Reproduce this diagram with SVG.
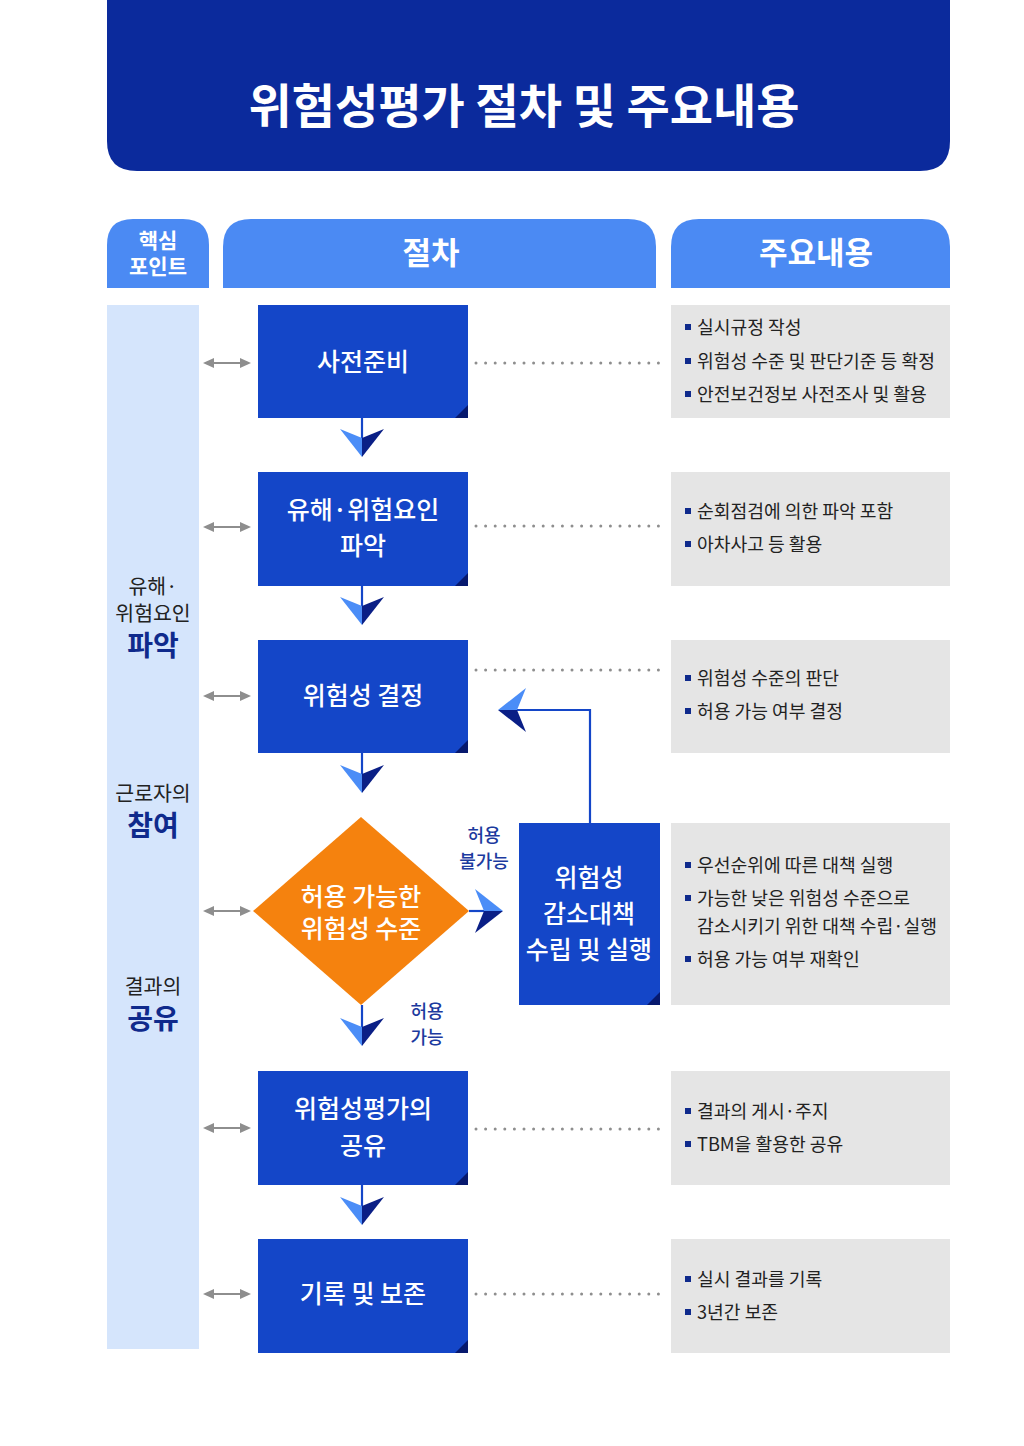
<svg xmlns="http://www.w3.org/2000/svg" width="1024" height="1446" viewBox="0 0 1024 1446">
<defs>
<style>
text{font-family:"Noto Sans CJK KR","Noto Sans",sans-serif}
.box{fill:#1446c8}
.fold{fill:#07196e}
.info{fill:#e5e5e5}
.btxt{fill:#fff;font-size:25px;font-weight:500;text-anchor:middle}
.itxt{fill:#222;font-size:18.2px}
.bul{fill:#0f2a8c}
.dot{stroke:#8e8e8e;stroke-width:3;stroke-linecap:round;stroke-dasharray:0 9.6;fill:none}
.dbl{stroke:#8e8e8e;stroke-width:2;fill:none}
.ah{fill:#8e8e8e}
.lt{fill:#4b8df7}
.dk{fill:#0a1f86}
.ln{stroke:#1446c8;stroke-width:2.2;fill:none}
.lbl{fill:#1c3a9e;font-size:18px;font-weight:500;text-anchor:middle}
.lc{fill:#222;font-size:20.5px;text-anchor:middle}
.lcb{fill:#0f2a8c;font-size:28px;font-weight:700;text-anchor:middle}
.hd{fill:#fff;font-weight:700;text-anchor:middle}
</style>
<g id="dblarrow">
<line class="dbl" x1="210" y1="0" x2="244" y2="0"/>
<polygon class="ah" points="203,0 214,-5 214,5"/>
<polygon class="ah" points="251,0 240,-5 240,5"/>
</g>
<g id="chev">
<polygon class="lt" points="-22,0 0,9 0,28"/>
<polygon class="dk" points="22,0 0,9 0,28"/>
</g>
</defs>
<rect width="1024" height="1446" fill="#fff"/>

<g id="title">
<path d="M107,0 H950 V141 Q950,171 920,171 H137 Q107,171 107,141 Z" fill="#0b2a9c"/>
<text x="524" y="123" class="hd" font-size="47" font-weight="900">위험성평가 절차 및 주요내용</text>
</g>

<g id="headers">
<path d="M107,288 V245 Q107,219 133,219 H183 Q209,219 209,245 V288 Z" fill="#4b8af3"/>
<text x="158" y="248" class="hd" font-size="21">핵심</text>
<text x="158" y="274" class="hd" font-size="21">포인트</text>
<path d="M223,288 V247 Q223,219 251,219 H628 Q656,219 656,247 V288 Z" fill="#4b8af3"/>
<text x="431" y="264" class="hd" font-size="31">절차</text>
<path d="M671,288 V247 Q671,219 699,219 H922 Q950,219 950,247 V288 Z" fill="#4b8af3"/>
<text x="816" y="264" class="hd" font-size="31">주요내용</text>
</g>

<g id="keypoints">
<rect x="107" y="305" width="92" height="1044" fill="#d5e5fc"/>
<text x="153" y="594" class="lc">유해·</text>
<text x="153" y="621" class="lc">위험요인</text>
<text x="153" y="656" class="lcb">파악</text>
<text x="153" y="801" class="lc">근로자의</text>
<text x="153" y="836" class="lcb">참여</text>
<text x="153" y="994" class="lc">결과의</text>
<text x="153" y="1029" class="lcb">공유</text>
</g>

<g id="connectors">
<use href="#dblarrow" y="363"/>
<use href="#dblarrow" y="527"/>
<use href="#dblarrow" y="696"/>
<use href="#dblarrow" y="911"/>
<use href="#dblarrow" y="1128"/>
<use href="#dblarrow" y="1294"/>
<line class="dot" x1="476" y1="363" x2="668" y2="363"/>
<line class="dot" x1="476" y1="526" x2="668" y2="526"/>
<line class="dot" x1="476" y1="670" x2="668" y2="670"/>
<line class="dot" x1="476" y1="1129" x2="668" y2="1129"/>
<line class="dot" x1="476" y1="1294" x2="668" y2="1294"/>
<line class="ln" x1="362" y1="418" x2="362" y2="440"/>
<use href="#chev" x="362" y="429"/>
<line class="ln" x1="362" y1="586" x2="362" y2="608"/>
<use href="#chev" x="362" y="597"/>
<line class="ln" x1="362" y1="753" x2="362" y2="775"/>
<use href="#chev" x="362" y="765"/>
<line class="ln" x1="362" y1="1005" x2="362" y2="1030"/>
<use href="#chev" x="362" y="1018"/>
<line class="ln" x1="362" y1="1185" x2="362" y2="1208"/>
<use href="#chev" x="362" y="1197"/>
<line class="ln" x1="469" y1="911" x2="494" y2="911"/>
<g transform="translate(475,911) rotate(-90)">
<polygon class="lt" points="22,0 0,9 0,28"/>
<polygon class="dk" points="-22,0 0,9 0,28"/>
</g>
<polyline class="ln" points="590,823 590,710 512,710"/>
<g transform="translate(526,710) rotate(90)">
<polygon class="lt" points="-22,0 0,9 0,28"/>
<polygon class="dk" points="22,0 0,9 0,28"/>
</g>
<text x="484" y="842" class="lbl">허용</text>
<text x="484" y="868" class="lbl">불가능</text>
<text x="427" y="1018" class="lbl">허용</text>
<text x="427" y="1044" class="lbl">가능</text>
</g>

<g id="step1">
<rect class="box" x="258" y="305" width="210" height="113"/>
<polygon class="fold" points="455,418 468,405 468,418"/>
<text x="363" y="371" class="btxt">사전준비</text>
</g>
<g id="step2">
<rect class="box" x="258" y="472" width="210" height="114"/>
<polygon class="fold" points="455,586 468,573 468,586"/>
<text x="363" y="519" class="btxt">유해·위험요인</text>
<text x="363" y="555" class="btxt">파악</text>
</g>
<g id="step3">
<rect class="box" x="258" y="640" width="210" height="113"/>
<polygon class="fold" points="455,753 468,740 468,753"/>
<text x="363" y="705" class="btxt">위험성 결정</text>
</g>
<g id="decision">
<polygon points="361,817 469,911 361,1005 253,911" fill="#f5820e"/>
<text x="361" y="906" class="btxt" font-size="24.5">허용 가능한</text>
<text x="361" y="938" class="btxt" font-size="24.5">위험성 수준</text>
</g>
<g id="reduce">
<rect class="box" x="519" y="823" width="141" height="182"/>
<polygon class="fold" points="647,1005 660,992 660,1005"/>
<text x="589" y="887" class="btxt" font-size="24">위험성</text>
<text x="589" y="923" class="btxt" font-size="24">감소대책</text>
<text x="589" y="959" class="btxt" font-size="24">수립 및 실행</text>
</g>
<g id="step5">
<rect class="box" x="258" y="1071" width="210" height="114"/>
<polygon class="fold" points="455,1185 468,1172 468,1185"/>
<text x="363" y="1118" class="btxt">위험성평가의</text>
<text x="363" y="1155" class="btxt">공유</text>
</g>
<g id="step6">
<rect class="box" x="258" y="1239" width="210" height="114"/>
<polygon class="fold" points="455,1353 468,1340 468,1353"/>
<text x="363" y="1303" class="btxt">기록 및 보존</text>
</g>

<g id="info1">
<rect class="info" x="671" y="305" width="279" height="113"/>
<rect class="bul" x="685" y="324" width="6" height="6"/>
<text x="697" y="334" class="itxt">실시규정 작성</text>
<rect class="bul" x="685" y="358" width="6" height="6"/>
<text x="697" y="368" class="itxt">위험성 수준 및 판단기준 등 확정</text>
<rect class="bul" x="685" y="391" width="6" height="6"/>
<text x="697" y="401" class="itxt">안전보건정보 사전조사 및 활용</text>
</g>
<g id="info2">
<rect class="info" x="671" y="472" width="279" height="114"/>
<rect class="bul" x="685" y="508" width="6" height="6"/>
<text x="697" y="518" class="itxt">순회점검에 의한 파악 포함</text>
<rect class="bul" x="685" y="541" width="6" height="6"/>
<text x="697" y="551" class="itxt">아차사고 등 활용</text>
</g>
<g id="info3">
<rect class="info" x="671" y="640" width="279" height="113"/>
<rect class="bul" x="685" y="675" width="6" height="6"/>
<text x="697" y="685" class="itxt">위험성 수준의 판단</text>
<rect class="bul" x="685" y="708" width="6" height="6"/>
<text x="697" y="718" class="itxt">허용 가능 여부 결정</text>
</g>
<g id="info4">
<rect class="info" x="671" y="823" width="279" height="182"/>
<rect class="bul" x="685" y="862" width="6" height="6"/>
<text x="697" y="872" class="itxt">우선순위에 따른 대책 실행</text>
<rect class="bul" x="685" y="895" width="6" height="6"/>
<text x="697" y="905" class="itxt">가능한 낮은 위험성 수준으로</text>
<text x="697" y="933" class="itxt">감소시키기 위한 대책 수립·실행</text>
<rect class="bul" x="685" y="956" width="6" height="6"/>
<text x="697" y="966" class="itxt">허용 가능 여부 재확인</text>
</g>
<g id="info5">
<rect class="info" x="671" y="1071" width="279" height="114"/>
<rect class="bul" x="685" y="1108" width="6" height="6"/>
<text x="697" y="1118" class="itxt">결과의 게시·주지</text>
<rect class="bul" x="685" y="1141" width="6" height="6"/>
<text x="697" y="1151" class="itxt">TBM을 활용한 공유</text>
</g>
<g id="info6">
<rect class="info" x="671" y="1239" width="279" height="114"/>
<rect class="bul" x="685" y="1276" width="6" height="6"/>
<text x="697" y="1286" class="itxt">실시 결과를 기록</text>
<rect class="bul" x="685" y="1309" width="6" height="6"/>
<text x="697" y="1319" class="itxt">3년간 보존</text>
</g>
</svg>
